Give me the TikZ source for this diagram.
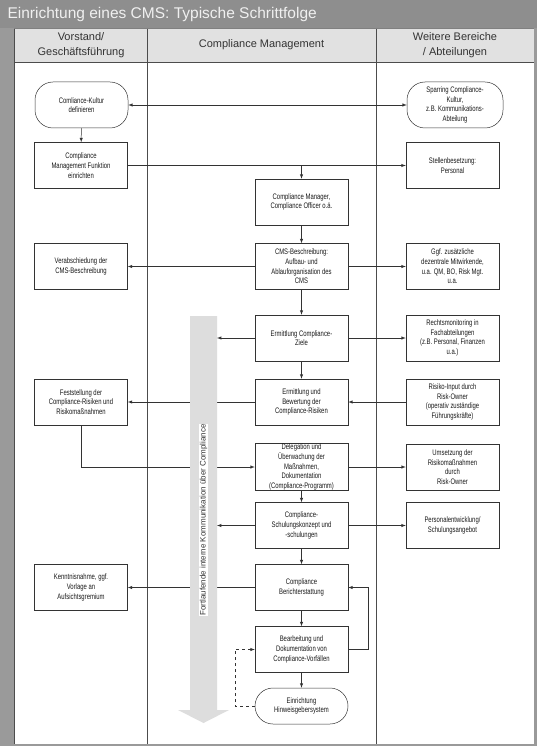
\documentclass[tikz,border=0pt]{standalone}
\usepackage{fontspec}
\setmainfont{Liberation Sans}
\newfontfamily\schmal[FakeStretch=0.74]{Liberation Sans}
\definecolor{rahmengrau}{HTML}{9A9A9A}
\definecolor{titelgrau}{HTML}{8E8E8E}
\definecolor{kopfgrau}{HTML}{E1E1E1}
\definecolor{pfeilgrau}{HTML}{DDDDDD}
\definecolor{textgrau}{HTML}{333333}
\begin{document}
\begin{tikzpicture}[x=1pt, y=-1pt,
        box/.style={draw=black!80, line width=0.5pt, fill=white, minimum width=93pt, minimum height=46pt, align=center, inner sep=0.5pt, text=black!90, font=\schmal\fontsize{8}{9.7}\selectfont},
        stadion/.style={box, rounded corners=18pt},
        kopf/.style={align=center, text=textgrau, font=\fontsize{11}{15}\selectfont},
        pfeil/.style={draw=black!80, line width=0.5pt, -latex}]
    % Rahmen und Spalten
    \fill[rahmengrau] (0,0) rectangle (537,746);
    \fill[titelgrau] (0,0) rectangle (537,28);
    \fill[kopfgrau] (14,28) rectangle (534,62);
    \fill[white] (14,62) rectangle (534,744);
    \foreach \x in {14, 147, 376} { \draw[black!70, line width=0.8pt] (\x,28) -- (\x,744); }
    \draw[black!70, line width=0.8pt] (14,62) -- (534,62);
    \draw[black!50] (14,28) -- (534,28);

    \node[anchor=west, text=white!94!black, font=\fontsize{15.5}{18}\selectfont] (titel) at (4,14) {Einrichtung eines CMS: Typische Schrittfolge};
    \node[kopf] (vorstand) at (81,45) {Vorstand/\\Geschäftsführung};
    \node[kopf] (cm) at (261.5,45) {Compliance Management};
    \node[kopf] (weitere) at (455,45) {Weitere Bereiche\\/ Abteilungen};

    % Schritte
    \node[stadion] (kultur) at (81.5,105) {Comliance-Kultur\\definieren};
    \node[stadion, minimum width=96pt] (sparring) at (455,105) {Sparring Compliance-\\Kultur,\\z.B. Kommunikations-\\Abteilung};
    \node[box] (funktion) at (81,165.5) {Compliance\\Management Funktion\\einrichten};
    \node[box] (stellen) at (452.5,165.5) {Stellenbesetzung:\\Personal};
    \node[box] (manager) at (301.5,202) {Compliance Manager,\\Compliance Officer o.ä.};
    \node[box] (beschreibung) at (301.5,266.5) {CMS-Beschreibung:\\Aufbau- und\\Ablauforganisation des\\CMS};
    \node[box] (verabschiedung) at (81,266.5) {Verabschiedung der\\CMS-Beschreibung};
    \node[box] (dezentral) at (452.5,266.5) {Ggf. zusätzliche\\dezentrale Mitwirkende,\\u.a. QM, BO, Risk Mgt.\\u.a.};
    \node[box] (ziele) at (301.5,338) {Ermittlung Compliance-\\Ziele};
    \node[box] (monitoring) at (452.5,338) {Rechtsmonitoring in\\Fachabteilungen\\(z.B. Personal, Finanzen\\u.a.)};
    \node[box] (bewertung) at (301.5,402) {Ermittlung und\\Bewertung der\\Compliance-Risiken};
    \node[box] (feststellung) at (81,402) {Feststellung der\\Compliance-Risiken und\\Risikomaßnahmen};
    \node[box] (input) at (452.5,402) {Risiko-Input durch\\Risk-Owner\\(operativ zuständige\\Führungskräfte)};
    \node[box] (delegation) at (301.5,467) {Delegation und\\Überwachung der\\Maßnahmen,\\Dokumentation\\(Compliance-Programm)};
    \node[box] (umsetzung) at (452.5,467) {Umsetzung der\\Risikomaßnahmen\\durch\\Risk-Owner};
    \node[box] (schulung) at (301.5,525.5) {Compliance-\\Schulungskonzept und\\-schulungen};
    \node[box] (personal) at (452.5,525.5) {Personalentwicklung/\\Schulungsangebot};
    \node[box] (bericht) at (301.5,587.5) {Compliance\\Berichterstattung};
    \node[box] (kenntnis) at (81,587.5) {Kenntnisnahme, ggf.\\Vorlage an\\Aufsichtsgremium};
    \node[box] (bearbeitung) at (301.5,649.5) {Bearbeitung und\\Dokumentation von\\Compliance-Vorfällen};
    \node[stadion, minimum height=36pt] (hinweis) at (301.5,706) {Einrichtung\\Hinweisgebersystem};

    % Verbindungen hinter dem Kommunikationspfeil
    \draw[pfeil] (bewertung) -- (feststellung);
    \draw[pfeil] (feststellung) |- (delegation);
    \draw[pfeil] (bericht) -- (kenntnis);

    % Fortlaufende Kommunikation
    \fill[pfeilgrau] (190,316) -- (217,316) -- (217,710) -- (229,710) -- (203.5,723) -- (178,710) -- (190,710) -- cycle;
    \node[fill=white, inner sep=0.6pt, rotate=90, text=textgrau, font=\fontsize{8}{8}\selectfont] (kommtext) at (203.5,520) {Fortlaufende interne Kommunikation über Compliance};
    \coordinate (komm) at (217,0);

    \draw[pfeil, latex-latex] (kultur) -- (sparring);
    \draw[pfeil] (kultur) -- (funktion);
    \draw[pfeil] (funktion) -- (stellen);
    \draw[pfeil] (funktion -| manager) -- (manager);
    \draw[pfeil] (manager) -- (beschreibung);
    \draw[pfeil] (beschreibung) -- (verabschiedung);
    \draw[pfeil] (beschreibung) -- (dezentral);
    \draw[pfeil] (beschreibung) -- (ziele);
    \draw[pfeil] (ziele) -- (ziele -| komm);
    \draw[pfeil] (ziele) -- (monitoring);
    \draw[pfeil] (ziele) -- (bewertung);
    \draw[pfeil] (input) -- (bewertung);
    \draw[pfeil] (delegation) -- (umsetzung);
    \draw[pfeil] (delegation) -- (schulung);
    \draw[pfeil] (schulung) -- (schulung -| komm);
    \draw[pfeil] (schulung) -- (personal);
    \draw[pfeil] (schulung) -- (bericht);
    \draw[pfeil] (bericht) -- (bearbeitung);
    \draw[pfeil] (bearbeitung.east) -- ++(20,0) |- (bericht.east);
    \draw[pfeil] (bearbeitung) -- (hinweis);
    \draw[pfeil, dashed] (hinweis.west) -- ++(-20,0) |- (bearbeitung.west);
\end{tikzpicture}
\end{document}
